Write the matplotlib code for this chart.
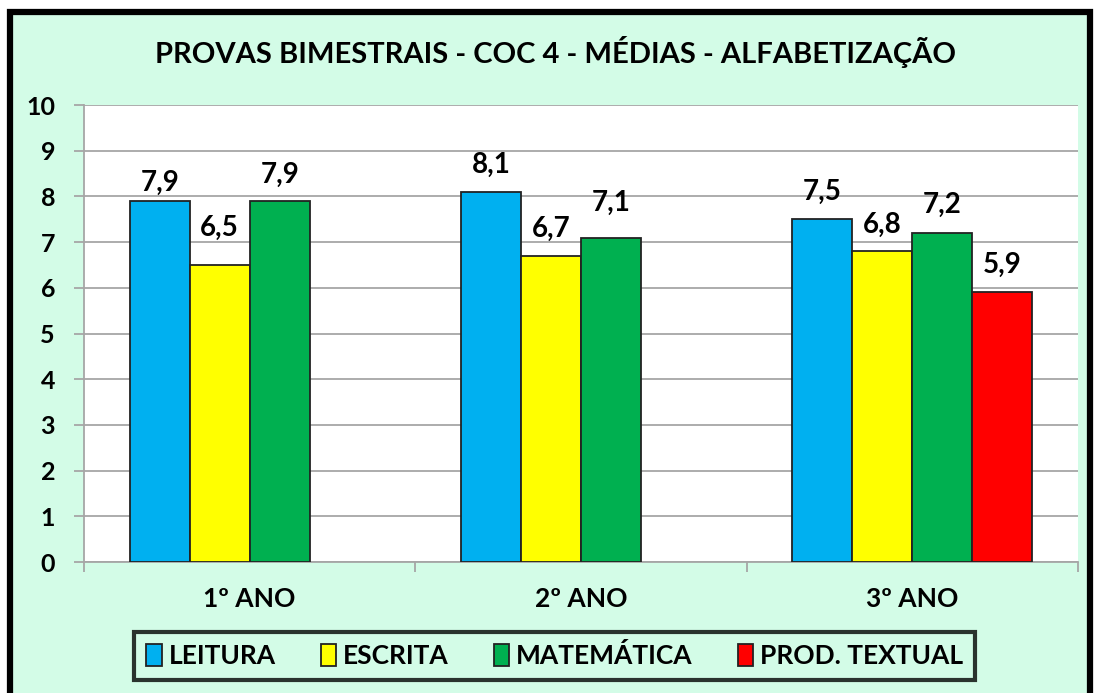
import numpy as np
import matplotlib
matplotlib.use("Agg")
import matplotlib.pyplot as plt
from matplotlib.patches import Rectangle, Patch
from matplotlib.transforms import blended_transform_factory, offset_copy

plt.rcParams['font.family'] = ['Lato', 'DejaVu Sans']
plt.rcParams['font.weight'] = 'bold'

categories = ['1º ANO', '2º ANO', '3º ANO']
series = ['LEITURA', 'ESCRITA', 'MATEMÁTICA', 'PROD. TEXTUAL']
leitura = [7.9, 8.1, 7.5]
escrita = [6.5, 6.7, 6.8]
matematica = [7.9, 7.1, 7.2]
prod_textual = [np.nan, np.nan, 5.9]
colors = ['#00B0F0', '#FFFF00', '#00B050', '#FF0000']
yticks = list(range(0, 11))
title = 'PROVAS BIMESTRAIS - COC 4 - MÉDIAS - ALFABETIZAÇÃO'

# label gap above each bar (points), per series x category, as placed in the original
label_gap = [[7, 14, 14], [21, 14, 13], [13, 19.5, 14.5], [14, 14, 14]]

bg = '#D3FCE7'

fig = plt.figure(figsize=(10.94, 6.93), dpi=100)
fig.patch.set_facecolor('white')

# panel with thick black frame (bottom edge runs off the image)
W, H = 1094, 693
fig.patches.append(Rectangle((10 / W, -0.05), 1080 / W, 1 - 12 / H + 0.05,
                             transform=fig.transFigure, facecolor=bg,
                             edgecolor='black', linewidth=4.5, zorder=-5))

ax = fig.add_axes([84 / W, 1 - 562 / H, 994 / W, 457 / H])
ax.set_zorder(2)
ax.set_facecolor('white')

x = np.arange(len(categories))
w = 0.181
data = [leitura, escrita, matematica, prod_textual]
for i, (name, vals) in enumerate(zip(series, data)):
    pos = x + (i - 1.5) * w
    bars = ax.bar(pos, vals, width=w, color=colors[i], edgecolor='#222222',
                  linewidth=1.3, label=name, zorder=3)
    for j, (b, v) in enumerate(zip(bars, vals)):
        if np.isnan(v):
            continue
        ax.annotate(f'{v:.1f}'.replace('.', ','), (b.get_x() + w / 2, v),
                    xytext=(0, label_gap[i][j]), textcoords='offset points',
                    ha='center', va='baseline', fontsize=20, fontweight='bold')

ax.set_xlim(-0.5, 2.5)
ax.set_ylim(0, 10)
ax.set_yticks(yticks)
ax.set_yticklabels([])
ax.yaxis.grid(True, color='#A6A6A6', linewidth=1.3, zorder=0)
ax.set_axisbelow(True)

# y labels drawn as text, further from the axis than the default tick labels
ylab_tr = offset_copy(blended_transform_factory(ax.transAxes, ax.transData),
                      fig=fig, x=-29, y=0, units='dots')
for v in yticks:
    ax.text(0, v, str(v), transform=ylab_tr, ha='right', va='center_baseline',
            fontsize=18, fontweight='bold', clip_on=False)

ax.set_xticks(x)
ax.set_xticklabels(categories, fontsize=19, fontweight='bold')
ax.set_xticks([-0.5, 0.5, 1.5, 2.5], minor=True)
ax.tick_params(axis='x', which='major', length=0, pad=18)
ax.tick_params(axis='x', which='minor', length=7, color='#A6A6A6', width=1.3)
ax.tick_params(axis='y', length=7, color='#A6A6A6', width=1.3)

for s in ['top', 'right']:
    ax.spines[s].set_visible(False)
for s in ['left', 'bottom']:
    ax.spines[s].set_color('#A6A6A6')
    ax.spines[s].set_linewidth(1.3)

fig.text(0.508, 1 - 52 / H, title, ha='center', va='center',
         fontsize=21, fontweight='bold')

handles = [Patch(facecolor=c, edgecolor='#222222', linewidth=1.3) for c in colors]
leg = fig.legend(handles, series, loc='center', bbox_to_anchor=(0.507, 1 - 656 / H),
                 ncol=4, frameon=True, fancybox=False, fontsize=19,
                 handlelength=0.6, handleheight=0.9, handletextpad=0.25,
                 columnspacing=1.7, borderpad=0.45, borderaxespad=0)
leg.get_frame().set_facecolor(bg)
leg.get_frame().set_edgecolor('black')
leg.get_frame().set_linewidth(3)
for t in leg.get_texts():
    t.set_fontweight('bold')

fig.savefig('out.png', dpi=100, facecolor=fig.get_facecolor())
